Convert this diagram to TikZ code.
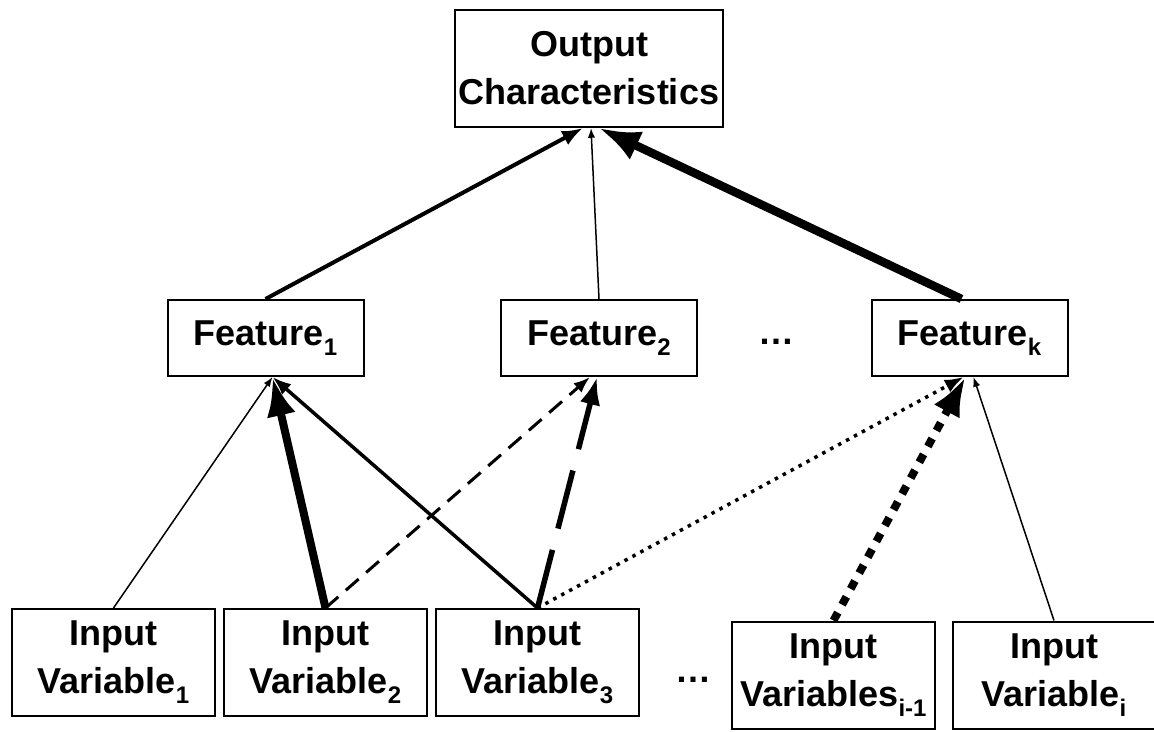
\documentclass[tikz,border=0pt]{standalone}
\usepackage{fontspec}
\setmainfont{Liberation Sans}
\usetikzlibrary{arrows.meta,positioning}

\newcommand{\lowidx}[1]{\raisebox{-10pt}{\fontsize{24}{24}\selectfont #1}}

\tikzset{
  box/.style={draw, line width=2pt, align=center, inner sep=0pt, font=\fontsize{36}{48}\selectfont\bfseries},
  outbox/.style={box, minimum width=268pt, minimum height=117pt},
  featbox/.style={box, minimum width=196pt, minimum height=76pt},
  inbox/.style={box, minimum width=203pt, minimum height=107pt},
  gap/.style={font=\fontsize{36}{36}\selectfont\bfseries},
  link/.style={-{Latex}, line width=#1},
  link/.default=1.5pt,
  dashlink/.style={link=3pt, dash pattern=on 17pt off 10pt},
  longdashlink/.style={link=5.5pt, dash pattern=on 60pt off 22pt},
  dotlink/.style={link=3.5pt, dash pattern=on 3.5pt off 5.5pt},
  squaredotlink/.style={link=8pt, dash pattern=on 9pt off 9pt}
}

\begin{document}
\begin{tikzpicture}[x=1pt, y=-1pt, node distance=212pt]
    \useasboundingbox (0,0) rectangle (1154,731);

    \node[outbox] (out) at (589, 68.5) {Output\\Characteristics};

    \node[featbox] (f1) at (265.5, 338) {Feature\lowidx{1}};
    \node[featbox] (f2) at (599, 338) {Feature\lowidx{2}};
    \node[featbox] (fk) at (969.5, 338) {Feature\lowidx{k}};
    \node[gap] (fdots) at (776, 342) {\dots};

    \node[inbox] (iv1) at (113.5, 662.5) {Input\\Variable\lowidx{1}};
    \node[inbox, right of=iv1] (iv2) {Input\\Variable\lowidx{2}};
    \node[inbox, right of=iv2] (iv3) {Input\\Variable\lowidx{3}};
    \node[gap] (ivdots) at (693, 680) {\dots};
    \node[inbox] (ivm) at (833.5, 675) {Input\\Variables\lowidx{i-1}};
    \node[inbox, node distance=220.5pt, right of=ivm] (ivi) {Input\\Variable\lowidx{i}};

    % features to output
    \draw[link=4pt] (f1.north) -- ([xshift=-6pt]out.south);
    \draw[link] (f2.north) -- ([xshift=2pt]out.south);
    \draw[link=8.5pt] ([xshift=-8pt]fk.north) -- ([xshift=10pt]out.south);

    % inputs to features
    \draw[link] (iv1.north) -- ([xshift=7pt]f1.south);
    \draw[link=8pt] (iv2.north) -- ([xshift=7pt]f1.south);
    \draw[link=3.5pt] (iv3.north) -- ([xshift=7pt]f1.south);

    \draw[dashlink] (iv2.north) -- ([xshift=-9pt]f2.south);
    \draw[longdashlink] (iv3.north) -- ([xshift=-2pt]f2.south);

    \draw[dotlink] (iv3.north) -- ([xshift=-6pt]fk.south);
    \draw[squaredotlink] (ivm.north) -- ([xshift=-4pt]fk.south);
    \draw[link] (ivi.north) -- ([xshift=4pt]fk.south);

\end{tikzpicture}
\end{document}
